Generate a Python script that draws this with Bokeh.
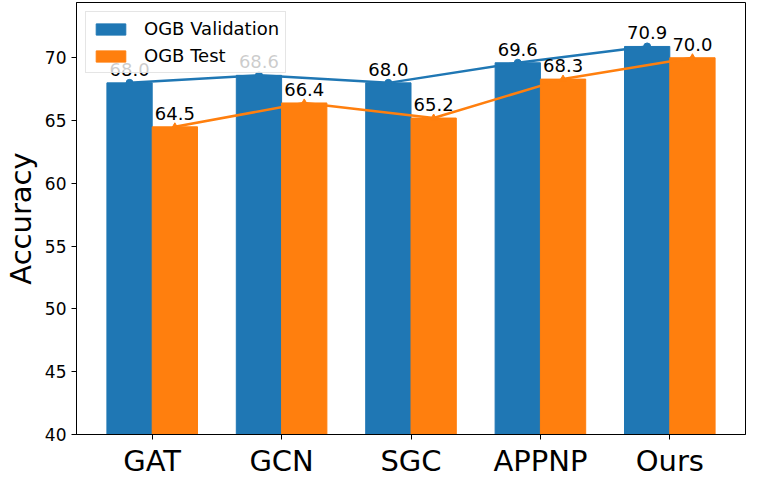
from bokeh.plotting import figure
from bokeh.models import Range1d, FixedTicker, ColumnDataSource, LabelSet
from bokeh.core.properties import value
from bokeh.embed import file_html
from bokeh.resources import INLINE

models = ["GAT", "GCN", "SGC", "APPNP", "Ours"]
val_acc = [68.0, 68.6, 68.0, 69.6, 70.9]
test_acc = [64.5, 66.4, 65.2, 68.3, 70.0]
y_ticks = [40, 45, 50, 55, 60, 65, 70]

BLUE = "#1f77b4"
ORANGE = "#ff7f0e"
FONT = "DejaVu Sans"
W = 0.35

xs = list(range(len(models)))
vx = [x - W / 2 for x in xs]
tx = [x + W / 2 for x in xs]

src_v = ColumnDataSource(dict(x=vx, top=val_acc, lab=[f"{v:.1f}" for v in val_acc]))
src_t = ColumnDataSource(dict(x=tx, top=test_acc, lab=[f"{v:.1f}" for v in test_acc]))

p = figure(width=748, height=480, output_backend="svg", toolbar_location=None,
           x_range=Range1d(-0.585, len(models) - 1 + 0.585), y_range=Range1d(40, 74.4),
           min_border_left=60, min_border_right=3, min_border_top=2, min_border_bottom=30)

# value labels first, so the legend (added later) sits above them
for s in (src_v, src_t):
    p.add_layout(LabelSet(x="x", y="top", text="lab", source=s, text_align="center",
                          text_baseline="alphabetic", y_offset=7, text_font=value(FONT),
                          text_font_size=value("18px"), text_color=value("black")))

p.vbar(x="x", top="top", bottom=40, width=W, color=BLUE, source=src_v, legend_label="OGB Validation")
p.vbar(x="x", top="top", bottom=40, width=W, color=ORANGE, source=src_t, legend_label="OGB Test")

p.line(x="x", y="top", source=src_v, line_color=BLUE, line_width=2.5)
p.scatter(x="x", y="top", source=src_v, marker="circle", size=7, color=BLUE)
p.line(x="x", y="top", source=src_t, line_color=ORANGE, line_width=2.5)
p.scatter(x="x", y="top", source=src_t, marker="triangle", size=7, color=ORANGE)

p.grid.visible = False
p.outline_line_color = "black"
p.outline_line_width = 1
p.background_fill_color = "white"
p.border_fill_color = "white"

p.xaxis.ticker = FixedTicker(ticks=xs)
p.xaxis.major_label_overrides = {i: m for i, m in zip(xs, models)}
p.yaxis.ticker = FixedTicker(ticks=y_ticks)
for ax in (p.xaxis, p.yaxis):
    ax.axis_line_color = "black"
    ax.major_tick_line_color = "black"
    ax.major_tick_out = 5
    ax.major_tick_in = 0
    ax.minor_tick_line_color = None
    ax.major_label_text_font = FONT
    ax.major_label_text_color = "black"
    ax.axis_label_text_font = FONT
    ax.axis_label_text_font_style = "normal"
    ax.axis_label_text_color = "black"
p.xaxis.major_label_text_font_size = "29px"
p.xaxis.major_label_standoff = 4
p.yaxis.major_label_text_font_size = "17px"
p.yaxis.major_label_standoff = 5
p.yaxis.axis_label = "Accuracy"
p.yaxis.axis_label_text_font_size = "29px"
p.yaxis.axis_label_standoff = 4

lg = p.legend[0]
lg.location = "top_left"
lg.margin = 9
lg.padding = 6
lg.spacing = 6
lg.glyph_width = 37
lg.glyph_height = 14
lg.label_height = 20
lg.label_standoff = 15
lg.label_text_font = FONT
lg.label_text_font_size = "18px"
lg.label_text_color = "black"
lg.background_fill_color = "white"
lg.background_fill_alpha = 0.8
lg.border_line_color = "#cccccc"
lg.border_line_width = 1

open("out.html", "w").write(file_html(p, INLINE))
